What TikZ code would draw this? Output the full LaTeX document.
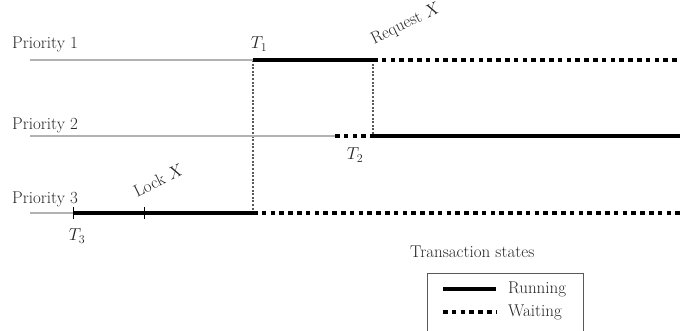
\documentclass[tikz,border=0pt]{standalone}
\usepackage{tikz}
\usetikzlibrary{positioning}

\begin{document}
\begin{tikzpicture}[
  x=1pt, y=-1pt,
  idle/.style={draw=gray!60, line width=1.6pt},
  running/.style={draw=black, line width=3.6pt},
  waiting/.style={draw=black, line width=3.8pt, dash pattern=on 4.5pt off 4.3pt},
  switch/.style={draw=gray!70!black, line width=1.2pt, dash pattern=on 2pt off 1.6pt},
  tick/.style={draw=black, line width=1pt},
  legendbox/.style={draw=gray!70!black, line width=0.9pt},
  plabel/.style={font=\fontsize{17}{20}\selectfont, text=black!85, inner sep=0pt},
  tlabel/.style={font=\fontsize{17}{20}\selectfont, text=black!85, inner sep=1pt}
]
  \useasboundingbox (0,0) rectangle (680,331);
  \clip (0,0) rectangle (680,331);
  % row labels
  \node[plabel, anchor=west] (pri1) at (12,44) {Priority 1};
  \node[plabel, anchor=west] (pri2) at (12,125) {Priority 2};
  \node[plabel, anchor=west] (pri3) at (12,199) {Priority 3};
  % time points on each row
  \coordinate (a0) at (30,60);\coordinate (a1) at (253,60);\coordinate (a2) at (373,60);\coordinate (a3) at (680,60);
  \coordinate (b0) at (30,136);\coordinate (b1) at (335,136);\coordinate (b2) at (373,136);\coordinate (b3) at (680,136);
  \coordinate (c0) at (30,213);\coordinate (c1) at (73,213);\coordinate (c2) at (144,213);\coordinate (c3) at (253,213);\coordinate (c4) at (680,213);
  % context switches
  \draw[switch] (a1) -- (c3);
  \draw[switch] (a2) -- (b2);
  % timelines
  \draw[idle] (a0) -- (a1);\draw[running] (a1) -- (a2);\draw[waiting] (a2) -- (a3);
  \draw[idle] (b0) -- (b1);\draw[waiting] (b1) -- (b2);\draw[running] (b2) -- (b3);
  \draw[idle] (c0) -- (c1);\draw[running] (c1) -- (c3);\draw[waiting] (c3) -- (c4);
  \foreach \pt in {c1,c2} {\draw[tick] (\pt) ++(0,-6) -- ++(0,12);}
  % events
  \node[tlabel] (t1) at (259,44) {$T_1$};
  \node[tlabel] (t2) at (355,155) {$T_2$};
  \node[tlabel] (t3) at (77,236) {$T_3$};
  \node[tlabel, rotate=26, anchor=base west] (req) at (373,45) {Request $X$};
  \node[tlabel, rotate=26, anchor=base west] (lock) at (136,198) {Lock $X$};
  % legend
  \node[tlabel, anchor=west] (states) at (409,252) {Transaction states};
  \draw[legendbox] (427,273) rectangle (583,345);
  \node[tlabel, anchor=west] (run) at (507,289) {Running};
  \node[tlabel, anchor=west] (wait) at (507,312) {Waiting};
  \coordinate (r0) at (443,289);\coordinate (w0) at (443,312);
  \draw[running] (r0) -- ([xshift=-11pt]run.west);
  \draw[waiting] (w0) -- ([xshift=-11pt]wait.west);
\end{tikzpicture}
\end{document}
